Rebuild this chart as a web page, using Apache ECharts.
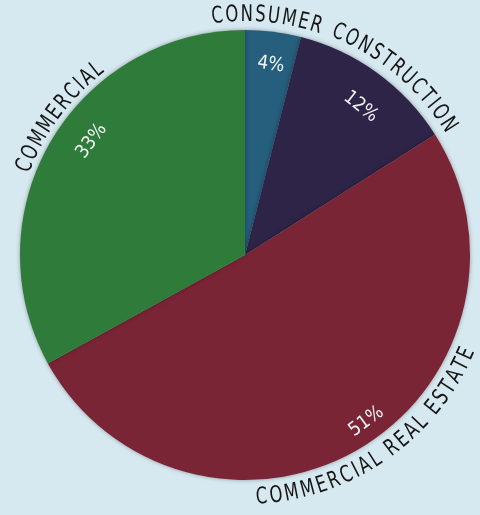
<!DOCTYPE html>
<html><head><meta charset="utf-8">
<script src="https://cdn.jsdelivr.net/npm/echarts@6/dist/echarts.min.js"></script>
<style>html,body{margin:0;padding:0;background:#d7e9f0;}#c{width:480px;height:515px;}</style>
</head><body><div id="c"></div>
<script>
const categories = ['CONSUMER', 'CONSTRUCTION', 'COMMERCIAL REAL ESTATE', 'COMMERCIAL'];
const shares = [4, 12, 51, 33];
const colors = ['#255f7d', '#2e2448', '#7a2535', '#2f7c3a'];

// label placement (style): angular shift from slice middle (deg) and radius (px)
const CENTER = [245, 255], RADIUS = 225;
const pctShift = [0.5, 2, -5.5, 6], pctRadius = [192, 188, 206, 191];
const nameShift = [-1.9, 4.1, -4.3, 6], nameRadius = [240, 241, 243, 237];

const FAMILY = 'DejaVu Sans Condensed';
const FONT = '"DejaVu Sans Condensed", "Liberation Sans Narrow", Roboto, sans-serif';
const NAME_SIZE = 23, NAME_SX = 0.8, NAME_GAP = 2.2;

const total = shares.reduce((a, b) => a + b, 0);
const midAngle = [];
shares.reduce((acc, v) => { midAngle.push((acc + v / 2) / total * 360); return acc + v; }, 0);

function place(i, shift, r) {
  const t = midAngle[i] + shift[i];
  const rad = t * Math.PI / 180;
  let rot = -t;
  if (t > 90 && t < 270) rot += 180;
  return { x: CENTER[0] + r[i] * Math.sin(rad), y: CENTER[1] - r[i] * Math.cos(rad),
    rotate: rot, align: 'center', verticalAlign: 'middle', hideOverlap: false, moveOverlap: false };
}

// category names set along the rim, one glyph at a time
const ctx = document.createElement('canvas').getContext('2d');
ctx.font = NAME_SIZE + 'px "' + FAMILY + '"';
const rimText = [];
categories.forEach((name, i) => {
  const chars = Array.from(name);
  const w = chars.map(ch => ctx.measureText(ch).width * NAME_SX);
  const L = w.reduce((a, b) => a + b, 0) + NAME_GAP * (chars.length - 1);
  const tc = midAngle[i] + nameShift[i];
  const bottom = tc > 90 && tc < 270;
  const r = nameRadius[i];
  let pos = 0;
  chars.forEach((ch, k) => {
    const along = pos + w[k] / 2 - L / 2;
    pos += w[k] + NAME_GAP;
    if (ch === ' ') return;
    const t = tc + (bottom ? -1 : 1) * along / r * 180 / Math.PI;
    const rad = t * Math.PI / 180;
    const rot = (bottom ? 180 - t : -t) * Math.PI / 180;
    rimText.push({ type: 'text', silent: true,
      x: CENTER[0] + r * Math.sin(rad), y: CENTER[1] - r * Math.cos(rad),
      rotation: rot, scaleX: NAME_SX,
      style: { text: ch, fontSize: NAME_SIZE, fontFamily: FONT, fill: '#161616',
        align: 'center', verticalAlign: 'middle' } });
  });
});

const chart = echarts.init(document.getElementById('c'));
const base = { type: 'pie', center: CENTER, startAngle: 90, clockwise: true, avoidLabelOverlap: false,
  emphasis: { disabled: true }, animation: false, labelLine: { show: false } };

chart.setOption({
  backgroundColor: '#d7e9f0',
  graphic: rimText,
  series: [
    Object.assign({}, base, {
      radius: [0, RADIUS],
      itemStyle: { shadowBlur: 4, shadowColor: 'rgba(0,0,0,0.35)' },
      label: { show: false },
      data: categories.map((n, i) => ({ name: n, value: shares[i], itemStyle: { color: colors[i] } }))
    }),
    Object.assign({}, base, {
      radius: [150, 222], silent: true,
      itemStyle: { color: 'rgba(0,0,0,0)', borderWidth: 0 },
      label: { show: true, position: 'inside', formatter: '{c}%',
        color: '#eef2f3', fontFamily: FONT, fontSize: 19 },
      labelLayout: p => place(p.dataIndex, pctShift, pctRadius),
      data: categories.map((n, i) => ({ name: n, value: shares[i] }))
    })
  ]
});
</script></body></html>
